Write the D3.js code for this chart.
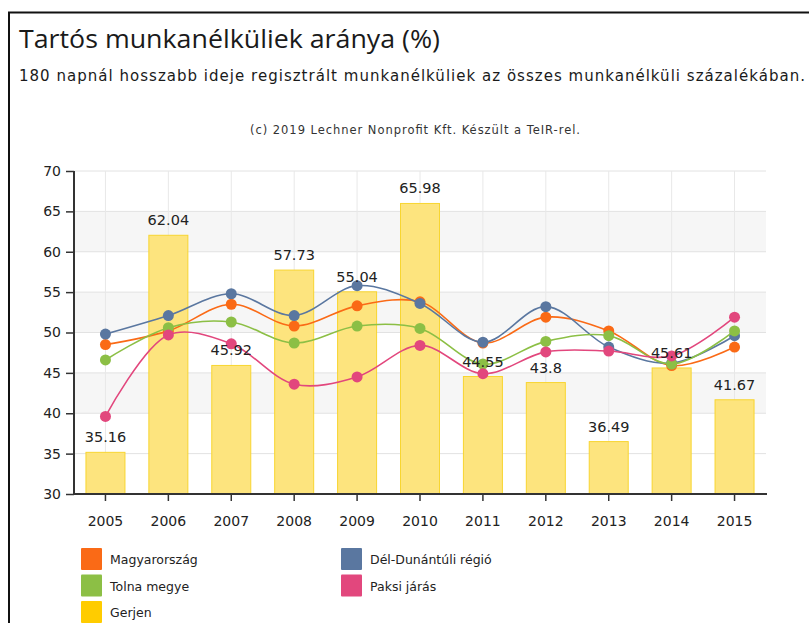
<!DOCTYPE html>
<html>
<head>
<meta charset="utf-8">
<script src="https://cdn.jsdelivr.net/npm/d3@7"></script>
<style>
  body { margin: 0; background: #fff; }
  svg { display: block; font-family: "DejaVu Sans", Verdana, sans-serif; }
</style>
</head>
<body>
<div id="canvas"></div>
<script>
// data
var years = ["2005", "2006", "2007", "2008", "2009", "2010", "2011", "2012", "2013", "2014", "2015"];
var magyarorszag = [48.5, 50.2, 53.5, 50.8, 53.3, 53.8, 48.7, 51.9, 50.2, 45.9, 48.2];
var delDunantul = [49.8, 52.1, 54.8, 52.1, 55.8, 53.6, 48.8, 53.2, 48.2, 46.2, 49.6];
var tolnaMegye = [46.6, 50.6, 51.3, 48.7, 50.8, 50.5, 46.1, 48.9, 49.6, 46.1, 50.2];
var paksiJaras = [39.6, 49.7, 48.6, 43.6, 44.5, 48.4, 44.9, 47.6, 47.7, 47.1, 51.9];
var gerjen = [35.16, 62.04, 45.92, 57.73, 55.04, 65.98, 44.55, 43.8, 36.49, 45.61, 41.67];
var yTicks = [30, 35, 40, 45, 50, 55, 60, 65, 70];
var seriesNames = ["Magyarország", "Dél-Dunántúli régió", "Tolna megye", "Paksi járás", "Gerjen"];
var seriesColors = ["#fa6a16", "#5a77a0", "#8cbf45", "#e2477d", "#ffcc00"];

var width = 809, height = 623;

var svg = d3.select("#canvas").append("svg")
    .attr("width", width)
    .attr("height", height);

// frame (top + left edge)
svg.append("path")
    .attr("d", "M9,623 V12.5 H809")
    .attr("fill", "none")
    .attr("stroke", "#111")
    .attr("stroke-width", 2);

// titles
svg.append("text")
    .attr("x", 19).attr("y", 48)
    .attr("textLength", 421)
    .attr("lengthAdjust", "spacingAndGlyphs")
    .style("font-family", "'Open Sans', sans-serif")
    .style("font-size", "26px")
    .attr("fill", "#1a1a1a")
    .text("Tartós munkanélküliek aránya (%)");

svg.append("text")
    .attr("x", 19).attr("y", 81)
    .attr("textLength", 786)
    .style("font-size", "15px")
    .attr("fill", "#1a1a1a")
    .text("180 napnál hosszabb ideje regisztrált munkanélküliek az összes munkanélküli százalékában.");

svg.append("text")
    .attr("x", 415).attr("y", 134)
    .attr("text-anchor", "middle")
    .attr("textLength", 330)
    .style("font-size", "11.5px")
    .attr("fill", "#333")
    .text("(c) 2019 Lechner Nonprofit Kft. Készült a TeIR-rel.");

// scales
var x = d3.scaleBand().domain(years).range([74, 766]);
var y = d3.scaleLinear().domain([30, 70]).range([494, 171]);

// alternating bands
var bands = svg.append("g");
[40, 50, 60].forEach(function(v) {
  bands.append("rect")
    .attr("x", 74).attr("width", 692)
    .attr("y", y(v + 5)).attr("height", y(v) - y(v + 5))
    .attr("fill", "#f6f6f6");
});

// grid
svg.append("g")
  .selectAll("line")
  .data(yTicks.slice(1))
  .join("line")
    .attr("x1", 74).attr("x2", 766)
    .attr("y1", function(d) { return y(d); })
    .attr("y2", function(d) { return y(d); })
    .attr("stroke", "#e2e2e2");

svg.append("g")
  .selectAll("line")
  .data(years)
  .join("line")
    .attr("x1", function(d) { return x(d) + x.bandwidth() / 2; })
    .attr("x2", function(d) { return x(d) + x.bandwidth() / 2; })
    .attr("y1", y(70)).attr("y2", y(30))
    .attr("stroke", "#e8e8e8");

// Gerjen bars
var barW = 39;
svg.append("g")
  .selectAll("rect")
  .data(gerjen)
  .join("rect")
    .attr("x", function(d, i) { return x(years[i]) + x.bandwidth() / 2 - barW / 2; })
    .attr("y", function(d) { return y(d); })
    .attr("width", barW)
    .attr("height", function(d) { return y(30) - y(d); })
    .attr("fill", "#fde47e")
    .attr("stroke", "#f8d530")
    .attr("stroke-width", 1);

// lines
var lineData = [magyarorszag, delDunantul, tolnaMegye, paksiJaras];
var line = d3.line()
    .x(function(d, i) { return x(years[i]) + x.bandwidth() / 2; })
    .y(function(d) { return y(d); })
    .curve(d3.curveCatmullRom);

lineData.forEach(function(vals, k) {
  var g = svg.append("g");
  g.append("path")
    .attr("d", line(vals))
    .attr("fill", "none")
    .attr("stroke", seriesColors[k])
    .attr("stroke-width", 1.6);
  g.selectAll("circle")
    .data(vals)
    .join("circle")
      .attr("cx", function(d, i) { return x(years[i]) + x.bandwidth() / 2; })
      .attr("cy", function(d) { return y(d); })
      .attr("r", 5.5)
      .attr("fill", seriesColors[k]);
});

// axes
var yAxis = svg.append("g")
    .attr("transform", "translate(74,0)")
    .call(d3.axisLeft(y).tickValues(yTicks).tickSize(8).tickPadding(5));
var xAxis = svg.append("g")
    .attr("transform", "translate(0,494)")
    .call(d3.axisBottom(x).tickSize(7).tickPadding(15));

[yAxis, xAxis].forEach(function(a) {
  a.select(".domain").attr("stroke", "#333").attr("stroke-width", 2);
  a.selectAll(".tick line").attr("stroke", "#333").attr("stroke-width", 1.5);
  a.selectAll("text")
    .style("font-family", "'DejaVu Sans', Verdana, sans-serif")
    .style("font-size", "14px")
    .attr("fill", "#222");
});
yAxis.select(".domain").attr("d", "M0,494V171");
xAxis.select(".domain").attr("d", "M74,0H767");

// bar labels (on top)
svg.append("g")
  .selectAll("text")
  .data(gerjen)
  .join("text")
    .attr("x", function(d, i) { return x(years[i]) + x.bandwidth() / 2; })
    .attr("y", function(d) { return y(d) - 10; })
    .attr("text-anchor", "middle")
    .style("font-size", "14.5px")
    .attr("fill", "#222")
    .text(function(d) { return d; });

// legend
var legend = svg.append("g")
  .selectAll("g")
  .data(seriesNames)
  .join("g")
    .attr("transform", function(d, i) {
      return "translate(" + (81 + (i % 2) * 260) + "," + (548 + Math.floor(i / 2) * 26.5) + ")";
    });

legend.append("rect")
    .attr("width", 21).attr("height", 22)
    .attr("rx", 1)
    .attr("fill", function(d, i) { return seriesColors[i]; });

legend.append("text")
    .attr("x", 29).attr("y", 16)
    .style("font-size", "12.5px")
    .attr("fill", "#222")
    .text(function(d) { return d; });
</script>
</body>
</html>
